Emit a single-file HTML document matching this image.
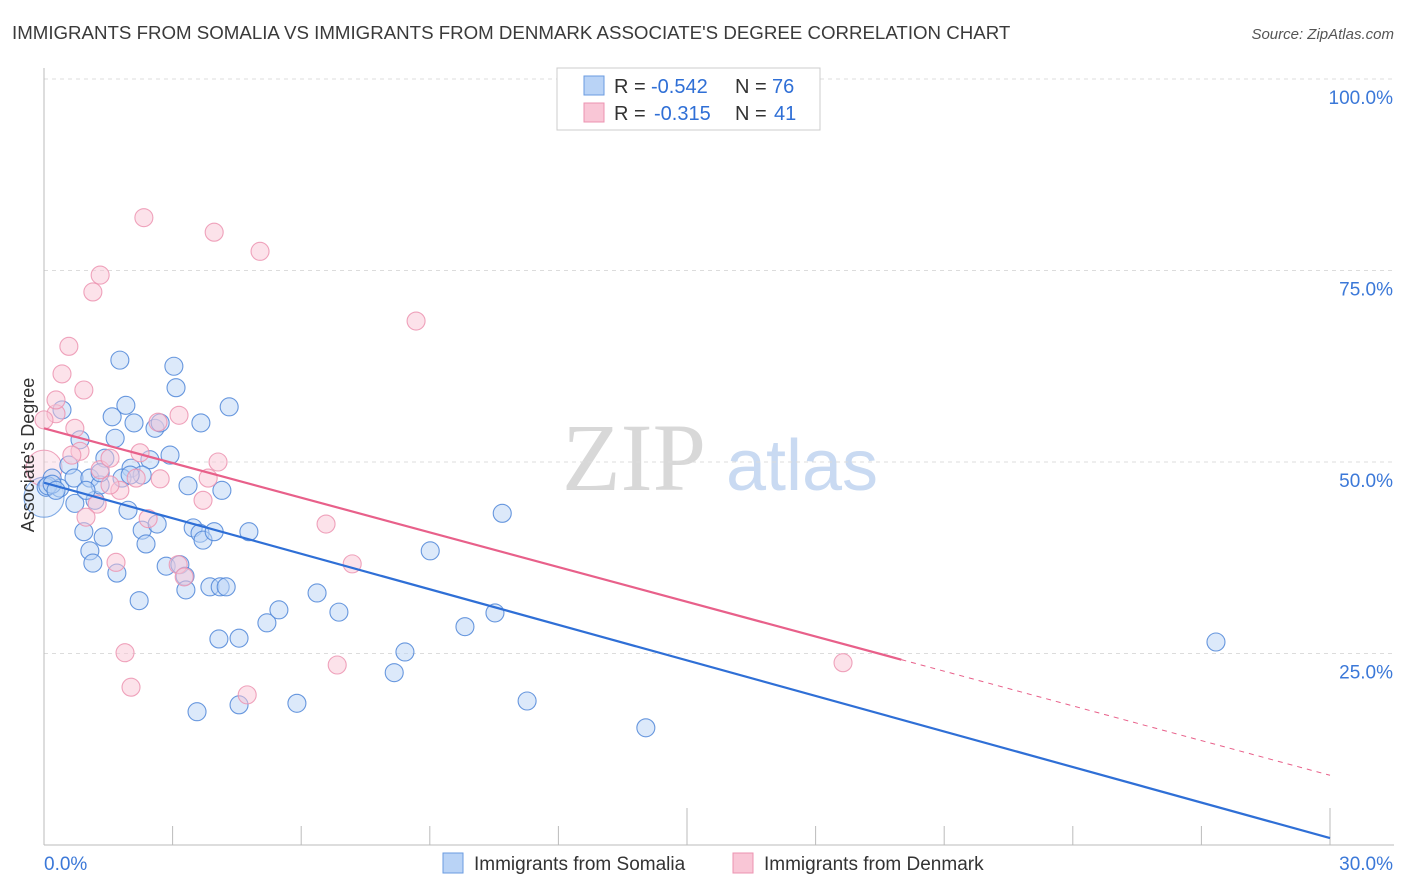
<!DOCTYPE html>
<html><head><meta charset="utf-8"><style>
body{margin:0;background:#fff;font-family:"Liberation Sans",sans-serif;}
svg{display:block}
</style></head><body>
<svg width="1406" height="892" viewBox="0 0 1406 892" xmlns="http://www.w3.org/2000/svg" id="chart">
<text x="12" y="39" font-size="18.7" fill="#3a3a3a">IMMIGRANTS FROM SOMALIA VS IMMIGRANTS FROM DENMARK ASSOCIATE'S DEGREE CORRELATION CHART</text>
<text x="1394" y="39" font-size="15" fill="#555" font-style="italic" text-anchor="end">Source: ZipAtlas.com</text>
<g>
<text x="634" y="490" font-size="96" fill="#d8d8d8" font-family="Liberation Serif,serif" text-anchor="middle">ZIP</text>
<text x="802" y="490" font-size="72" fill="#c9daf2" text-anchor="middle">atlas</text>
</g>
<g id="grid"></g>
<g id="axes"></g>
<g id="points"></g>
<text transform="translate(34,455) rotate(-90)" font-size="18" fill="#333" text-anchor="middle">Associate's Degree</text>
<g id="lines"></g>
<g>
<rect x="557" y="68" width="263" height="62" fill="#fff" stroke="#ccc"/>
<rect x="584" y="76" width="20" height="19" fill="#b9d3f6" stroke="#6a9be0"/>
<rect x="584" y="103" width="20" height="19" fill="#f9c6d6" stroke="#ec93b0"/>
<text y="93" font-size="20" fill="#333"><tspan x="614">R =</tspan><tspan x="651" fill="#2f6fd6">-0.542</tspan><tspan x="735">N =</tspan><tspan x="772" fill="#2f6fd6">76</tspan></text>
<text y="120" font-size="20" fill="#333"><tspan x="614">R =</tspan><tspan x="654" fill="#2f6fd6">-0.315</tspan><tspan x="735">N =</tspan><tspan x="774" fill="#2f6fd6">41</tspan></text>
</g>
<g>
<rect x="443" y="853" width="20" height="20" fill="#b9d3f6" stroke="#6a9be0"/>
<text x="474" y="870" font-size="19" fill="#333">Immigrants from Somalia</text>
<rect x="733" y="853" width="20" height="20" fill="#f9c6d6" stroke="#ec93b0"/>
<text x="764" y="870" font-size="19" fill="#333">Immigrants from Denmark</text>
</g>
</svg>
<script>
const yTicks=[25,50,75,100];
const yTickLabels=["25.0%","50.0%","75.0%","100.0%"];
const xTickLabels=["0.0%","30.0%"];
const somaliaX=[0.42,0.84,0.58,0.19,0.37,0.70,1.07,1.19,1.31,1.59,1.91,2.10,1.77,3.03,3.08,2.59,2.71,2.94,2.47,2.03,2.29,1.42,1.66,0.93,1.07,1.14,1.38,1.70,1.96,2.29,2.38,2.64,2.85,3.17,3.29,3.31,3.48,3.64,3.71,3.87,3.97,4.11,4.25,4.78,4.15,3.36,3.66,4.32,2.22,4.08,4.55,3.57,4.55,5.20,5.48,5.90,6.37,6.88,8.42,8.17,9.01,9.82,10.52,10.69,11.27,14.04,27.34,0.05,0.09,0.19,0.28,0.72,1.31,1.82,2.01,0.98];
const somaliaY=[56.8,52.9,49.6,47.9,46.6,47.9,47.9,45.0,47.0,55.9,57.4,55.1,63.3,62.5,59.7,54.4,55.1,50.9,50.3,49.2,48.3,50.5,53.1,40.9,38.4,36.8,40.2,35.5,43.7,41.1,39.3,41.9,36.4,36.6,35.1,33.3,41.4,40.7,39.8,33.7,40.9,33.7,33.7,40.9,46.3,46.9,55.1,57.2,31.9,26.9,27.0,17.4,18.3,29.0,30.7,18.5,32.9,30.4,25.2,22.5,38.4,28.5,30.3,43.3,18.8,15.3,26.5,46.7,46.9,47.1,46.3,44.6,48.6,47.9,48.3,46.3];
const denmarkX=[2.33,3.97,5.04,1.31,1.14,8.68,0.58,0.42,0.93,0.28,0.28,0.72,0.84,1.31,1.54,2.24,2.66,3.15,4.06,3.83,3.71,1.77,1.24,0.98,2.43,2.15,3.13,3.27,1.68,6.58,7.19,6.84,4.74,1.89,2.03,18.64,2.71,0.65,1.54,0.0];
const denmarkY=[81.9,80.0,77.5,74.4,72.2,68.4,65.1,61.5,59.4,56.3,58.1,54.4,51.4,49.0,50.5,51.2,55.2,56.1,50.0,47.9,45.0,46.3,44.5,42.8,42.6,47.9,36.6,35.0,36.9,41.9,36.7,23.5,19.6,25.1,20.6,23.8,47.8,50.9,47.0,55.5];
const bigSomalia=[0,45.4];
const bigDenmark=[0,49.2];
const somaliaLine=[[0,47.3],[30,0.9]];
const denmarkLineSolid=[[0,54.4],[20.0,24.2]];
const denmarkLineDash=[[20.0,24.2],[30,9.1]];

const NS="http://www.w3.org/2000/svg";
const X0=44,X1=1330,Y0=845,Y100=79;
const sx=v=>X0+(v/30)*(X1-X0);
const sy=v=>Y0-(v/100)*(Y0-Y100);
function mk(tag,attrs,parent){const e=document.createElementNS(NS,tag);for(const k in attrs)e.setAttribute(k,attrs[k]);parent.appendChild(e);return e;}
const grid=document.getElementById('grid'),axes=document.getElementById('axes'),pts=document.getElementById('points'),lines=document.getElementById('lines');
yTicks.forEach((t,i)=>{
 const l=mk('line',{x1:X0,x2:1394,y1:sy(t),y2:sy(t),stroke:'#dcdcdc','stroke-dasharray':'4,4'},grid);
 
 
 const tx=mk('text',{x:1393,y:sy(t)+25,'font-size':19,fill:'#3b78d8','text-anchor':'end'},axes);
 tx.textContent=yTickLabels[i];
 
 
});
const ax=mk('line',{x1:X0,x2:1394,y1:Y0,y2:Y0,stroke:'#bbb'},axes);


const ay=mk('line',{x1:X0,x2:X0,y1:68,y2:Y0,stroke:'#bbb'},axes);


for(let i=0;i<=10;i++){
 const v=i*3;const tall=(i==5||i==10);
 const t=mk('line',{x1:sx(v),x2:sx(v),y1:tall?808:826,y2:Y0,stroke:'#bbb'},axes);
 
 
}
[[0,'start'],[30,'end']].forEach((d,i)=>{
 const t=mk('text',{x:i?1393:44,y:870,'font-size':19,fill:'#3b78d8','text-anchor':d[1]},axes);
 t.textContent=xTickLabels[i];
 
 
});
function dot(x,y,r,fill,stroke,name,op){
 const c=mk('circle',{cx:sx(x),cy:sy(y),r:r,fill:fill,'fill-opacity':op,stroke:stroke,'stroke-width':1.1,'stroke-opacity':0.85},pts);
 
 
}
dot(bigSomalia[0],bigSomalia[1],20,'#b9d3f6','#6a9be0','point-somalia',0.35);
dot(bigDenmark[0],bigDenmark[1],18,'#f9c6d6','#ec93b0','point-denmark',0.35);
somaliaX.forEach((x,i)=>dot(x,somaliaY[i],9,'#b9d3f6','#4f86d8','point-somalia',0.5));
denmarkX.forEach((x,i)=>dot(x,denmarkY[i],9,'#f9c6d6','#ec93b0','point-denmark',0.5));
function ln(p,stroke,w,dash,name){
 const l=mk('line',{x1:sx(p[0][0]),y1:sy(p[0][1]),x2:sx(p[1][0]),y2:sy(p[1][1]),stroke:stroke,'stroke-width':w},lines);
 if(dash)l.setAttribute('stroke-dasharray',dash);
 
 
}
ln(somaliaLine,'#2f6fd6',2.2,null,'trendline-somalia');
ln(denmarkLineSolid,'#e8608a',2.2,null,'trendline-denmark');
ln(denmarkLineDash,'#e8608a',1,'5,5','trendline-denmark-extension');
</script>
</body></html>
